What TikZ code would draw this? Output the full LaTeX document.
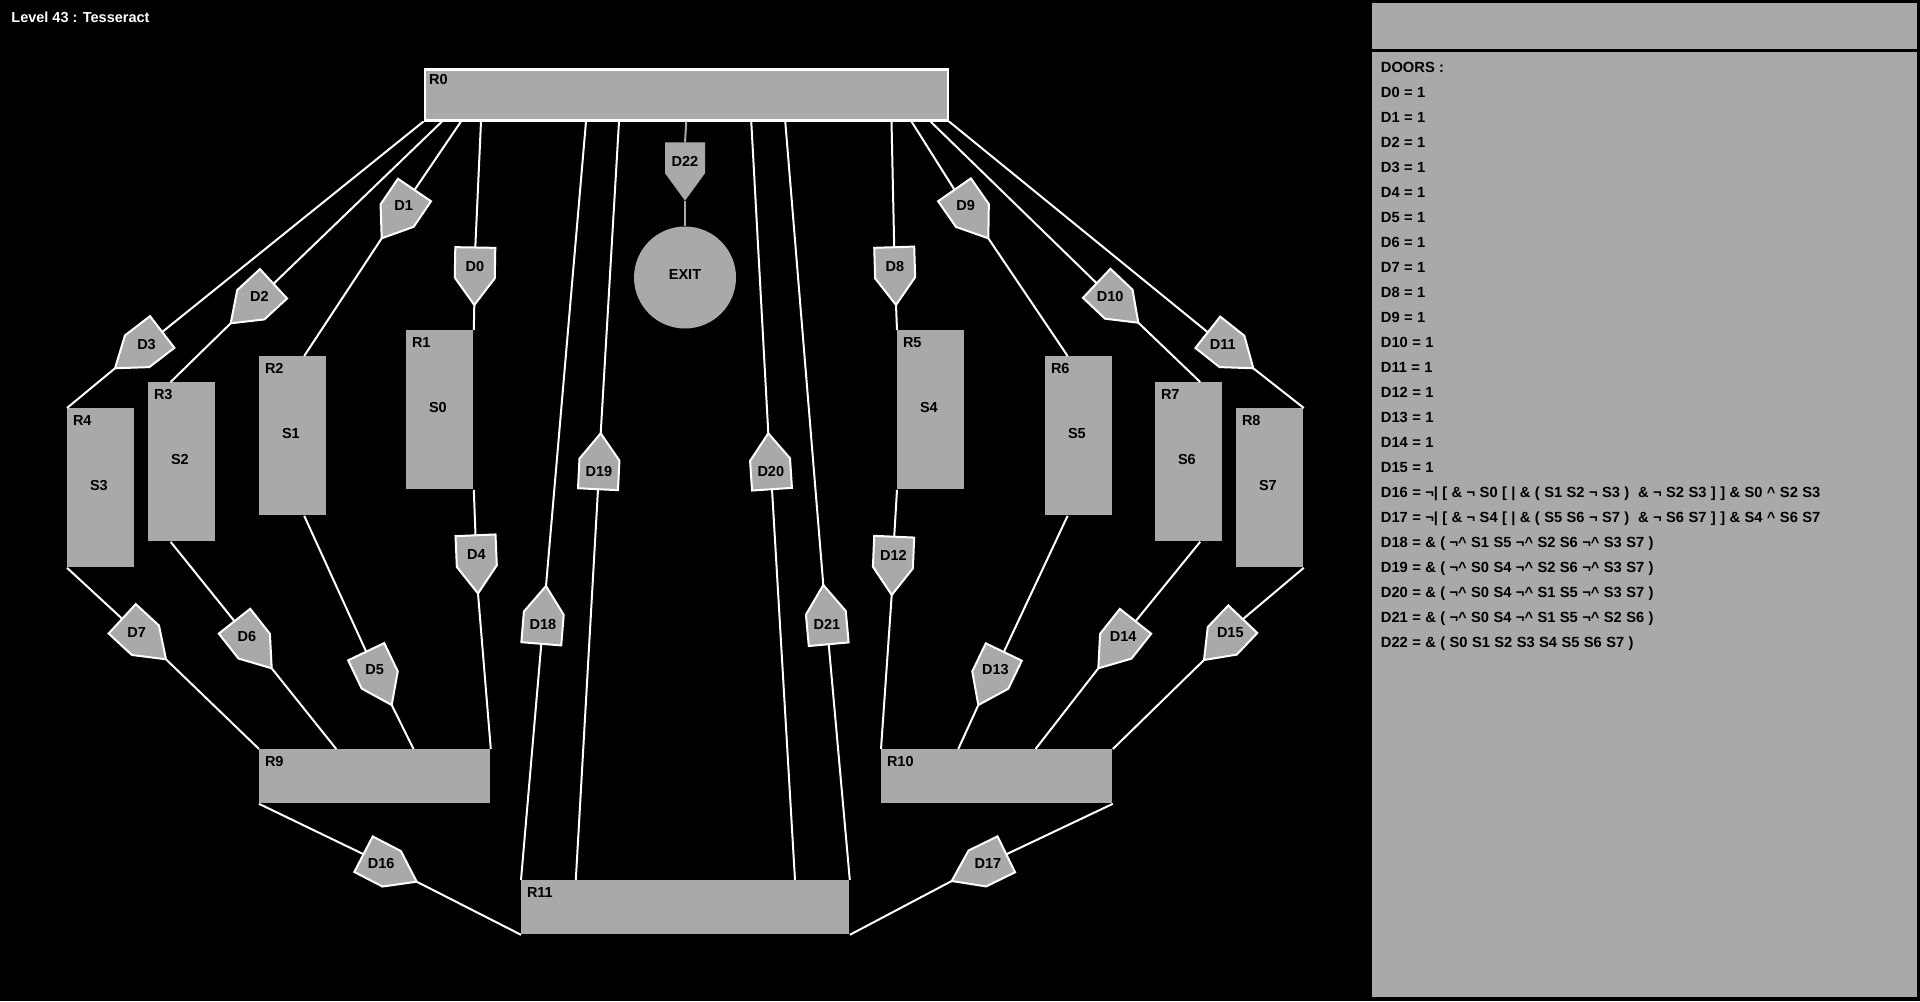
\documentclass[tikz,border=0pt]{standalone}
\usepackage{fontspec}
\setmainfont{Liberation Sans}
\newfontfamily\pfam{Liberation Sans}[WordSpace=1.08]
\usetikzlibrary{calc}
\definecolor{rg}{HTML}{A9A9A9}
\newcommand{\mycaret}{\textasciicircum{}}
\tikzset{
  room/.style={fill=rg, draw=none, inner sep=0pt, anchor=north west},
  conn/.style={draw=white, line width=1pt},
  dconn/.style={draw=rg, line width=1pt},
  doorshape/.style={fill=rg, draw=white, line width=1pt, line join=miter},
  txt/.style={font=\fontsize{7.25}{8}\selectfont\bfseries, text=black, inner sep=0pt},
  ptxt/.style={font=\pfam\fontsize{7.35}{8}\selectfont\bfseries, text=black, inner sep=0pt, anchor=base west},
}
\newcommand{\myroom}[6]{%
  \node[room, minimum width=#4, minimum height=#5] (#1) at (#2,#3) {};
  \node[txt, anchor=base west] (#1l) at ([xshift=2.8pt,yshift=-8.6pt]#1.north west) {#6};
}
\newcommand{\dc}[3]{%
  \coordinate (#1b) at (#2);
  \coordinate (#1t) at (#3);
  \coordinate (#1s) at ($(#1b)!0.53!(#1t)$);
  \coordinate (#1c) at ($(#1b)!0.5!(#1t)$);
}
\newcommand{\ds}[2]{%
  \path[doorshape,#2] ($(#1b)!10pt!90:(#1t)$) -- ($(#1s)!10pt!90:(#1t)$) -- (#1t) -- ($(#1s)!10pt!-90:(#1t)$) -- ($(#1b)!10pt!-90:(#1t)$) -- cycle;
  \node[txt] (#1) at ($(#1c)!5pt!(#1b)$) {#1};
}
\begin{document}
\begin{tikzpicture}[x=0.5pt,y=-0.5pt]
\path[use as bounding box, fill=black] (0,0) rectangle (1920,1001);
\node[txt, text=white, anchor=base west] (title) at (11,22.7) {Level 43 : Tesseract};

% rooms
\node[room, draw=white, line width=1.25pt, minimum width=261.5pt, minimum height=25.5pt] (R0) at (423.5,68) {};
\node[txt, anchor=base west] (R0l) at ([xshift=2.6pt,yshift=-8.2pt]R0.north west) {R0};
\myroom{R1}{406}{330}{33.5pt}{79.5pt}{R1}
\myroom{R2}{259}{356}{33.5pt}{79.5pt}{R2}
\myroom{R3}{148}{382}{33.5pt}{79.5pt}{R3}
\myroom{R4}{67}{408}{33.5pt}{79.5pt}{R4}
\myroom{R5}{897}{330}{33.5pt}{79.5pt}{R5}
\myroom{R6}{1045}{356}{33.5pt}{79.5pt}{R6}
\myroom{R7}{1155}{382}{33.5pt}{79.5pt}{R7}
\myroom{R8}{1236}{408}{33.5pt}{79.5pt}{R8}
\myroom{R9}{259}{749}{115.5pt}{27pt}{R9}
\myroom{R10}{881}{749}{115.5pt}{27pt}{R10}
\myroom{R11}{521}{880}{164pt}{27pt}{R11}
\foreach \r/\s in {R1/S0,R2/S1,R3/S2,R4/S3,R5/S4,R6/S5,R7/S6,R8/S7}
  \node[txt] (\s) at ([xshift=-1pt,yshift=1.2pt]\r.center) {\s};
\node[circle, fill=rg, inner sep=0pt, minimum size=51pt] (EXIT) at (685,277.5) {};
\node[txt] (EXITl) at ([yshift=1.5pt]EXIT.center) {EXIT};

% door coordinates (base, tip)
\dc{D0}{475.3,247.5}{474.3,305}
\dc{D1}{414.5,190}{381.7,238.3}
\dc{D2}{273.5,283.8}{230.7,323.3}
\dc{D3}{162.2,332}{115,368.3}
\dc{D4}{475.5,535.3}{478,593.5}
\dc{D5}{366.2,651.7}{391.7,705}
\dc{D6}{234.5,621.2}{271.7,668.3}
\dc{D7}{122.2,618.8}{166,659.3}
\dc{D8}{894.2,247.2}{896,305}
\dc{D9}{954.5,189.8}{988.3,238.3}
\dc{D10}{1096.7,283.3}{1138.3,322.7}
\dc{D11}{1207.8,332.3}{1253.3,368.3}
\dc{D12}{894.2,536.7}{891.7,595}
\dc{D13}{1003.8,652}{978.3,705}
\dc{D14}{1135.5,621.3}{1098.3,668.3}
\dc{D15}{1242.8,619.2}{1204,660}
\dc{D16}{363.5,854.2}{416.7,881.7}
\dc{D17}{1006.3,854.3}{951.7,881}
\dc{D18}{541.3,643.8}{546,586}
\dc{D19}{598,489.2}{600.7,433.3}
\dc{D20}{772,489.2}{768.3,433.3}
\dc{D21}{828.7,644.2}{823.3,585}
\dc{D22}{685,142.3}{685,200.7}

% connectors
\draw[conn] (R0.south west) -- (D3b);
\draw[conn] (D3t) -- (R4.north west);
\draw[conn] ([xshift=9.25pt]R0.south west) -- (D2b);
\draw[conn] (D2t) -- ($(R3.north west)!1/3!(R3.north east)$);
\draw[conn] ([xshift=18.75pt]R0.south west) -- (D1b);
\draw[conn] (D1t) -- ($(R2.north west)!2/3!(R2.north east)$);
\draw[conn] ([xshift=28.75pt]R0.south west) -- (D0b);
\draw[conn] (D0t) -- (R1.north east);
\draw[conn] ([xshift=-28.75pt]R0.south east) -- (D8b);
\draw[conn] (D8t) -- (R5.north west);
\draw[conn] ([xshift=-18.75pt]R0.south east) -- (D9b);
\draw[conn] (D9t) -- ($(R6.north west)!1/3!(R6.north east)$);
\draw[conn] ([xshift=-9.25pt]R0.south east) -- (D10b);
\draw[conn] (D10t) -- ($(R7.north west)!2/3!(R7.north east)$);
\draw[conn] (R0.south east) -- (D11b);
\draw[conn] (D11t) -- (R8.north east);

\draw[conn] (R1.south east) -- (D4b);
\draw[conn] (D4t) -- (R9.north east);
\draw[conn] ($(R2.south west)!2/3!(R2.south east)$) -- (D5b);
\draw[conn] (D5t) -- ($(R9.north west)!2/3!(R9.north east)$);
\draw[conn] ($(R3.south west)!1/3!(R3.south east)$) -- (D6b);
\draw[conn] (D6t) -- ($(R9.north west)!1/3!(R9.north east)$);
\draw[conn] (R4.south west) -- (D7b);
\draw[conn] (D7t) -- (R9.north west);

\draw[conn] (R5.south west) -- (D12b);
\draw[conn] (D12t) -- (R10.north west);
\draw[conn] ($(R6.south west)!1/3!(R6.south east)$) -- (D13b);
\draw[conn] (D13t) -- ($(R10.north west)!1/3!(R10.north east)$);
\draw[conn] ($(R7.south west)!2/3!(R7.south east)$) -- (D14b);
\draw[conn] (D14t) -- ($(R10.north west)!2/3!(R10.north east)$);
\draw[conn] (R8.south east) -- (D15b);
\draw[conn] (D15t) -- (R10.north east);

\draw[conn] (R9.south west) -- (D16b);
\draw[conn] (D16t) -- (R11.south west);
\draw[conn] (R10.south east) -- (D17b);
\draw[conn] (D17t) -- (R11.south east);

\draw[conn] (R11.north west) -- (D18b);
\draw[conn] (D18t) -- ([xshift=81.25pt]R0.south west);
\draw[conn] ($(R11.north west)!1/6!(R11.north east)$) -- (D19b);
\draw[conn] (D19t) -- ([xshift=97.75pt]R0.south west);
\draw[conn] ($(R11.north west)!5/6!(R11.north east)$) -- (D20b);
\draw[conn] (D20t) -- ([xshift=32.5pt]R0.south);
\draw[conn] (R11.north east) -- (D21b);
\draw[conn] (D21t) -- ([xshift=49.5pt]R0.south);

\draw[dconn] (R0.south) -- (D22b);
\draw[dconn] (D22t) -- (EXIT.north);

% doors
\foreach \d in {D0,D1,D2,D3,D4,D5,D6,D7,D8,D9,D10,D11,D12,D13,D14,D15,D16,D17,D18,D19,D20,D21}
  {\ds{\d}{}}
\ds{D22}{draw=none}

% side panel
\node[room, minimum width=272.75pt, minimum height=23pt] (top) at (1371.5,3) {};
\node[room, minimum width=272.75pt, minimum height=472.5pt] (panel) at (1371.5,52) {};
\node[ptxt] (p0) at (1380.5,72) {DOORS :};
\node[ptxt] (p1) at (1380.5,97) {D0 = 1};
\node[ptxt] (p2) at (1380.5,122) {D1 = 1};
\node[ptxt] (p3) at (1380.5,147) {D2 = 1};
\node[ptxt] (p4) at (1380.5,172) {D3 = 1};
\node[ptxt] (p5) at (1380.5,197) {D4 = 1};
\node[ptxt] (p6) at (1380.5,222) {D5 = 1};
\node[ptxt] (p7) at (1380.5,247) {D6 = 1};
\node[ptxt] (p8) at (1380.5,272) {D7 = 1};
\node[ptxt] (p9) at (1380.5,297) {D8 = 1};
\node[ptxt] (p10) at (1380.5,322) {D9 = 1};
\node[ptxt] (p11) at (1380.5,347) {D10 = 1};
\node[ptxt] (p12) at (1380.5,372) {D11 = 1};
\node[ptxt] (p13) at (1380.5,397) {D12 = 1};
\node[ptxt] (p14) at (1380.5,422) {D13 = 1};
\node[ptxt] (p15) at (1380.5,447) {D14 = 1};
\node[ptxt] (p16) at (1380.5,472) {D15 = 1};
\node[ptxt] (p17) at (1380.5,497) {D16 = ¬| [ \& ¬ S0 [ | \& ( S1 S2 ¬ S3 )\ \ \& ¬ S2 S3 ] ] \& S0 \mycaret\ S2 S3};
\node[ptxt] (p18) at (1380.5,522) {D17 = ¬| [ \& ¬ S4 [ | \& ( S5 S6 ¬ S7 )\ \ \& ¬ S6 S7 ] ] \& S4 \mycaret\ S6 S7};
\node[ptxt] (p19) at (1380.5,547) {D18 = \& ( ¬\mycaret\ S1 S5 ¬\mycaret\ S2 S6 ¬\mycaret\ S3 S7 )};
\node[ptxt] (p20) at (1380.5,572) {D19 = \& ( ¬\mycaret\ S0 S4 ¬\mycaret\ S2 S6 ¬\mycaret\ S3 S7 )};
\node[ptxt] (p21) at (1380.5,597) {D20 = \& ( ¬\mycaret\ S0 S4 ¬\mycaret\ S1 S5 ¬\mycaret\ S3 S7 )};
\node[ptxt] (p22) at (1380.5,622) {D21 = \& ( ¬\mycaret\ S0 S4 ¬\mycaret\ S1 S5 ¬\mycaret\ S2 S6 )};
\node[ptxt] (p23) at (1380.5,647) {D22 = \& ( S0 S1 S2 S3 S4 S5 S6 S7 )};
\end{tikzpicture}
\end{document}
